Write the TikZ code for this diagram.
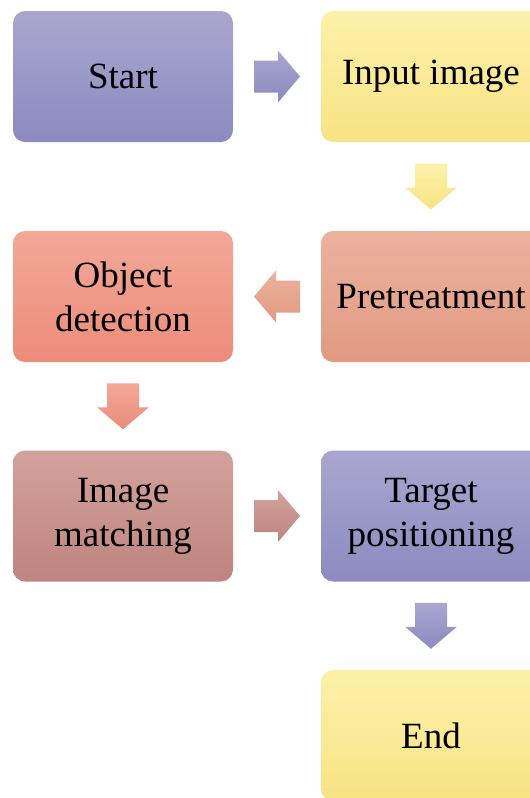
\documentclass[tikz,border=0pt]{standalone}
\usepackage{fontspec}
\setmainfont{Liberation Serif}
\usetikzlibrary{calc}
\definecolor{purT}{HTML}{A9A7CF}\definecolor{purB}{HTML}{8C8AC0}
\definecolor{yelT}{HTML}{FDF1AA}\definecolor{yelB}{HTML}{F8E384}
\definecolor{ptrT}{HTML}{EAB29E}\definecolor{ptrB}{HTML}{E29A82}
\definecolor{objT}{HTML}{F3A898}\definecolor{objB}{HTML}{EC8C7A}
\definecolor{matT}{HTML}{D3A29C}\definecolor{matB}{HTML}{BE847F}
\tikzset{
  box/.style={rounded corners=12pt, minimum width=220pt, minimum height=131pt,
    inner sep=0pt, align=center, font=\fontsize{37}{44}\selectfont, text=black},
  shd/.style 2 args={top color=#1, bottom color=#2, draw=none},
}
% block arrows around a named coordinate
\newcommand{\arrR}[3]{\shade[shd={#2}{#3}] ($(#1)+(-23,16)$) -- ++(24,0) -- ++(0,10) -- ($(#1)+(23,0)$) -- ($(#1)+(1,-26)$) -- ++(0,10) -- ++(-24,0) -- cycle;}
\newcommand{\arrL}[3]{\shade[shd={#2}{#3}] ($(#1)+(23,16)$) -- ++(-24,0) -- ++(0,10) -- ($(#1)+(-23,0)$) -- ($(#1)+(-1,-26)$) -- ++(0,10) -- ++(24,0) -- cycle;}
\newcommand{\arrD}[3]{\shade[shd={#2}{#3}] ($(#1)+(-16,23)$) -- ++(0,-24) -- ++(-10,0) -- ($(#1)+(0,-23)$) -- ($(#1)+(26,-1)$) -- ++(-10,0) -- ++(0,24) -- cycle;}
\begin{document}
\begin{tikzpicture}[x=1pt,y=1pt]
\useasboundingbox (0,0) rectangle (530,-798);
\clip (0,0) rectangle (530,-798);
\fill[white] (0,0) rectangle (530,-798);
\node[box, shd={purT}{purB}] (start) at (123,-76.5) {Start};
\node[box, shd={yelT}{yelB}] (input) at (431,-76.5) {Input image};
\node[box, shd={ptrT}{ptrB}] (pre) at (431,-296.5) {Pretreatment};
\node[box, shd={objT}{objB}] (obj) at (123,-296.5) {Object\\detection};
\node[box, shd={matT}{matB}] (mat) at (123,-516) {Image\\matching};
\node[box, shd={purT}{purB}] (tgt) at (431,-516) {Target\\positioning};
\node[box, shd={yelT}{yelB}] (end) at (431,-735.5) {End};
% block arrows between boxes
\coordinate (a1) at ($(start.east)!0.5!(input.west)$);
\coordinate (a2) at ($(input.south)!0.5!(pre.north)$);
\coordinate (a3) at ($(pre.west)!0.5!(obj.east)$);
\coordinate (a4) at ($(obj.south)!0.5!(mat.north)$);
\coordinate (a5) at ($(mat.east)!0.5!(tgt.west)$);
\coordinate (a6) at ($(tgt.south)!0.5!(end.north)$);
\arrR{a1}{purT}{purB}
\arrD{a2}{yelT}{yelB}
\arrL{a3}{ptrT}{ptrB}
\arrD{a4}{objT}{objB}
\arrR{a5}{matT}{matB}
\arrD{a6}{purT}{purB}
\end{tikzpicture}
\end{document}
